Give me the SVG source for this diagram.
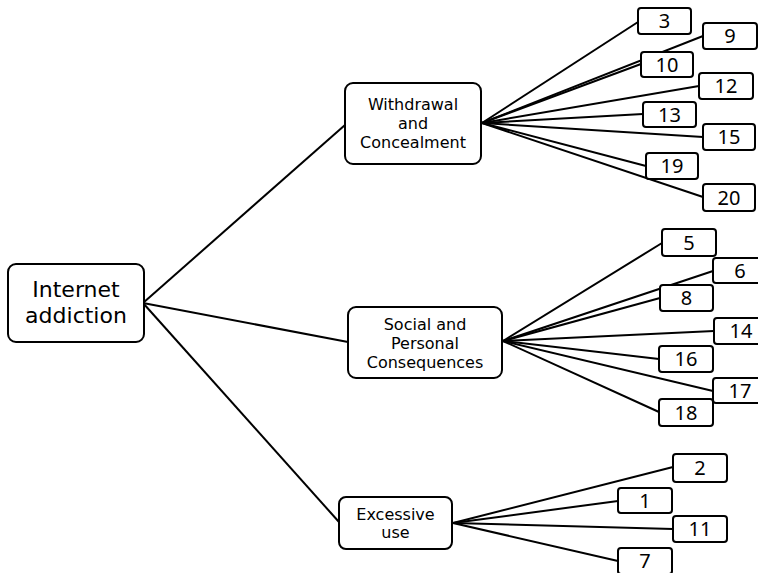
<svg xmlns="http://www.w3.org/2000/svg" width="758" height="573" viewBox="0 0 758 573">
<style>
.c line{stroke:#000;stroke-width:2;}
.main rect{fill:#fff;stroke:#000;stroke-width:2;}
.num rect{fill:#fff;stroke:#000;stroke-width:2;}
text{font-family:"DejaVu Sans",sans-serif;fill:#000;text-anchor:middle;}
.big{font-size:22px;}
.mid{font-size:16px;}
.n{font-family:"Noto Sans","DejaVu Sans",sans-serif;font-size:20px;}
</style>
<rect width="758" height="573" fill="#fff"/>
<g id="connectors" class="c">
<line x1="143" y1="303" x2="345" y2="125"/>
<line x1="143" y1="303" x2="348" y2="342"/>
<line x1="143" y1="303" x2="339" y2="522"/>
<line x1="482" y1="123" x2="638" y2="22"/>
<line x1="482" y1="123" x2="703" y2="36"/>
<line x1="482" y1="123" x2="641" y2="64"/>
<line x1="482" y1="123" x2="699" y2="86"/>
<line x1="482" y1="123" x2="643" y2="114"/>
<line x1="482" y1="123" x2="703" y2="137"/>
<line x1="482" y1="123" x2="646" y2="166"/>
<line x1="482" y1="123" x2="703" y2="197"/>
<line x1="503" y1="341" x2="662" y2="243"/>
<line x1="503" y1="341" x2="713" y2="271"/>
<line x1="503" y1="341" x2="660" y2="298"/>
<line x1="503" y1="341" x2="714" y2="331"/>
<line x1="503" y1="341" x2="659" y2="359"/>
<line x1="503" y1="341" x2="713" y2="391"/>
<line x1="503" y1="341" x2="659" y2="412"/>
<line x1="453" y1="523" x2="673" y2="467"/>
<line x1="453" y1="523" x2="618" y2="501"/>
<line x1="453" y1="523" x2="673" y2="529"/>
<line x1="453" y1="523" x2="618" y2="561"/>
</g>
<g id="internet" class="main"><rect x="8" y="264" width="136" height="78" rx="8"/><text class="big" x="76" y="297">Internet</text><text class="big" x="76" y="323">addiction</text></g>
<g id="withdrawal" class="main"><rect x="345" y="83" width="136" height="81" rx="8"/><text class="mid" x="413" y="110">Withdrawal</text><text class="mid" x="413" y="129">and</text><text class="mid" x="413" y="148">Concealment</text></g>
<g id="social" class="main"><rect x="348" y="307" width="154" height="71" rx="8"/><text class="mid" x="425" y="330">Social and</text><text class="mid" x="425" y="349">Personal</text><text class="mid" x="425" y="368">Consequences</text></g>
<g id="excessive" class="main"><rect x="339" y="497" width="113" height="52" rx="7"/><text class="mid" x="395.5" y="520">Excessive</text><text class="mid" x="395.5" y="538">use</text></g>
<g id="n3" class="num"><rect x="638" y="8" width="53" height="26" rx="3"/><text class="n" x="664.5" y="28">3</text></g>
<g id="n9" class="num"><rect x="703" y="23" width="54" height="26" rx="3"/><text class="n" x="730" y="43">9</text></g>
<g id="n10" class="num"><rect x="641" y="52" width="52" height="25" rx="3"/><text class="n" x="667" y="71.5">10</text></g>
<g id="n12" class="num"><rect x="699" y="73" width="54" height="26" rx="3"/><text class="n" x="726" y="93">12</text></g>
<g id="n13" class="num"><rect x="643" y="102" width="53" height="25" rx="3"/><text class="n" x="669.5" y="121.5">13</text></g>
<g id="n15" class="num"><rect x="703" y="124" width="52" height="26" rx="3"/><text class="n" x="729" y="144">15</text></g>
<g id="n19" class="num"><rect x="646" y="153" width="52" height="26" rx="3"/><text class="n" x="672" y="173">19</text></g>
<g id="n20" class="num"><rect x="703" y="184" width="52" height="27" rx="3"/><text class="n" x="729" y="204.5">20</text></g>
<g id="n5" class="num"><rect x="662" y="229" width="54" height="27" rx="3"/><text class="n" x="689" y="249.5">5</text></g>
<g id="n6" class="num"><rect x="713" y="258" width="54" height="25" rx="3"/><text class="n" x="740" y="277.5">6</text></g>
<g id="n8" class="num"><rect x="660" y="285" width="53" height="26" rx="3"/><text class="n" x="686.5" y="305">8</text></g>
<g id="n14" class="num"><rect x="714" y="318" width="54" height="26" rx="3"/><text class="n" x="741" y="338">14</text></g>
<g id="n16" class="num"><rect x="659" y="346" width="54" height="26" rx="3"/><text class="n" x="686" y="366">16</text></g>
<g id="n17" class="num"><rect x="713" y="378" width="54" height="25" rx="3"/><text class="n" x="740" y="397.5">17</text></g>
<g id="n18" class="num"><rect x="659" y="399" width="54" height="27" rx="3"/><text class="n" x="686" y="419.5">18</text></g>
<g id="n2" class="num"><rect x="673" y="454" width="54" height="28" rx="3"/><text class="n" x="700" y="475">2</text></g>
<g id="n1" class="num"><rect x="618" y="488" width="54" height="25" rx="3"/><text class="n" x="645" y="507.5">1</text></g>
<g id="n11" class="num"><rect x="673" y="516" width="54" height="26" rx="3"/><text class="n" x="700" y="536">11</text></g>
<g id="n7" class="num"><rect x="618" y="548" width="54" height="26" rx="3"/><text class="n" x="645" y="568">7</text></g>
</svg>
